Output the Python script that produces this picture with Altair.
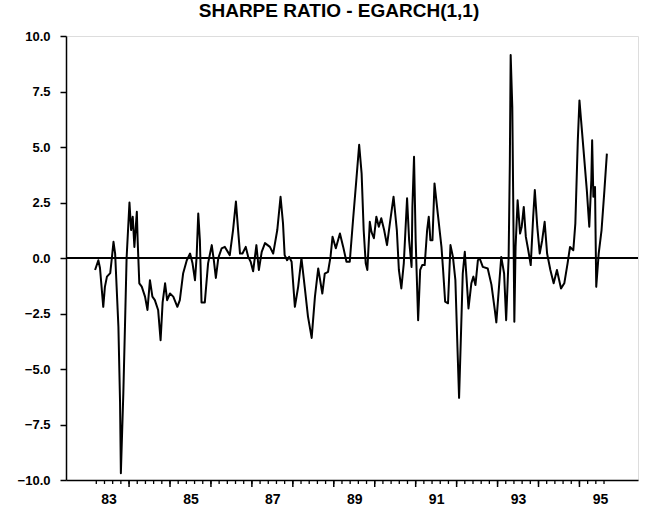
import altair as alt
import pandas as pd

# time axis in years (label "83" centred on 83.0)
years = [
    82.67, 82.75, 82.79, 82.87, 82.91, 82.96, 83.04, 83.08, 83.12, 83.16,
    83.24, 83.28, 83.30, 83.36, 83.40, 83.44, 83.51, 83.55, 83.59, 83.63,
    83.69, 83.71, 83.75, 83.81, 83.89, 83.95, 84.01, 84.07, 84.13, 84.21,
    84.27, 84.32, 84.38, 84.43, 84.50, 84.58, 84.68, 84.74, 84.82, 84.91,
    84.99, 85.05, 85.11, 85.15, 85.19, 85.23, 85.27, 85.35, 85.43, 85.52,
    85.57, 85.62, 85.68, 85.76, 85.84, 85.96, 86.04, 86.11, 86.17, 86.21,
    86.27, 86.35, 86.41, 86.47, 86.53, 86.61, 86.67, 86.74, 86.82, 86.94,
    87.02, 87.12, 87.20, 87.26, 87.30, 87.36, 87.41, 87.47, 87.55, 87.63,
    87.71, 87.79, 87.87, 87.96, 88.04, 88.12, 88.22, 88.28, 88.36, 88.42,
    88.47, 88.55, 88.65, 88.73, 88.81, 88.89, 88.97, 89.05, 89.12, 89.18,
    89.23, 89.28, 89.32, 89.38, 89.42, 89.48, 89.54, 89.60, 89.66, 89.73,
    89.80, 89.87, 89.96, 90.04, 90.09, 90.15, 90.21, 90.29, 90.34, 90.40,
    90.42, 90.46, 90.50, 90.56, 90.61, 90.66, 90.72, 90.78, 90.82, 90.86,
    90.91, 90.96, 91.04, 91.13, 91.17, 91.22, 91.29, 91.35, 91.41, 91.47,
    91.52, 91.56, 91.60, 91.65, 91.70, 91.74, 91.79, 91.86, 91.91, 91.96,
    92.02, 92.06, 92.14, 92.26, 92.35, 92.43, 92.47, 92.59, 92.66, 92.71,
    92.77, 92.80, 92.82, 92.86, 92.88, 92.91, 92.94, 92.99, 93.05, 93.09,
    93.14, 93.19, 93.25, 93.31, 93.37, 93.41, 93.47, 93.53, 93.59, 93.65,
    93.71, 93.79, 93.87, 93.95, 94.05, 94.13, 94.21, 94.27, 94.35, 94.40,
    94.46, 94.50, 94.54, 94.60, 94.68, 94.74, 94.79, 94.81, 94.84, 94.88,
    94.91, 94.97, 95.04, 95.11, 95.17,
]

sharpe = [
    -0.54, -0.10, -0.45, -2.20, -1.30, -0.84, -0.68, 0.00, 0.73, 0.20,
    -3.10, -6.50, -9.70, -6.10, -3.10, 0.00, 2.50, 1.26, 1.86, 0.50,
    2.08, 0.80, -1.14, -1.29, -1.74, -2.34, -1.00, -1.74, -1.90, -2.34,
    -3.70, -2.00, -1.14, -1.90, -1.60, -1.74, -2.20, -1.90, -0.70, -0.10,
    0.20, -0.24, -1.00, 0.05, 2.00, 0.80, -2.00, -2.00, -0.24, 0.58,
    -0.10, -0.90, 0.00, 0.43, 0.50, 0.13, 1.26, 2.54, 1.10, 0.20,
    0.20, 0.50, 0.05, -0.17, -0.60, 0.58, -0.54, 0.28, 0.67, 0.50,
    0.20, 1.26, 2.76, 1.56, 0.13, -0.10, 0.05, -0.17, -2.20, -1.30,
    0.00, -1.30, -2.64, -3.60, -1.74, -0.47, -1.60, -0.70, -0.62, 0.05,
    0.96, 0.44, 1.10, 0.50, -0.17, -0.17, 1.70, 3.50, 5.10, 3.80,
    1.26, -0.24, -0.54, 1.63, 1.18, 0.89, 1.86, 1.41, 1.79, 1.26,
    0.58, 1.56, 2.76, 1.26, -0.54, -1.37, -0.24, 2.69, 0.80, -0.40,
    2.30, 4.56, 0.80, -2.80, -0.54, -0.32, -0.32, 1.26, 1.86, 0.80,
    0.80, 3.36, 2.00, 0.50, -0.54, -1.97, -2.04, 0.58, 0.05, -1.00,
    -4.00, -6.30, -3.84, -0.70, 0.28, -0.84, -2.27, -1.14, -0.84, -1.22,
    -0.10, 0.00, -0.40, -0.47, -1.20, -2.30, -2.90, 0.05, -0.70, -2.80,
    0.00, 4.27, 9.14, 6.80, 3.06, -2.87, 0.50, 2.60, 1.10, 1.41,
    2.30, 0.96, 0.35, -0.32, 1.86, 3.06, 1.41, 0.20, 0.80, 1.63,
    0.20, -0.54, -1.14, -0.54, -1.37, -1.14, -0.24, 0.50, 0.35, 1.56,
    5.30, 7.10, 6.20, 4.86, 3.06, 1.41, 3.50, 5.30, 2.76, 3.20,
    -1.30, 0.20, 1.26, 3.06, 4.70,
]

y_ticks = [-10, -7.5, -5, -2.5, 0, 2.5, 5, 7.5, 10]
year_labels = [83, 85, 87, 89, 91, 93, 95]
major_ticks = [83.5, 84.5, 85.5, 86.5, 87.5, 88.5, 89.5, 90.5, 91.5, 92.5, 93.5, 94.5]
minor_ticks = [round(82.7 + 0.2 * i, 1) for i in range(63)]
zero_line = [0.0]

FONT = "Liberation Sans"
PLOT_H = 444

df = pd.DataFrame({"year": years, "sharpe": sharpe})
xscale = alt.Scale(domain=[81.96, 95.93], nice=False, zero=False)
yscale = alt.Scale(domain=[-10, 10], nice=False, zero=False)

line = alt.Chart(df).mark_line(color="black", strokeWidth=2, strokeJoin="round").encode(
    x=alt.X("year:Q", scale=xscale,
            axis=alt.Axis(values=year_labels, ticks=False, format="d", labelPadding=12,
                          labelOverlap=False, labelBound=False, labelFlush=False,
                          domain=True, domainColor="black", domainWidth=1.5, grid=False,
                          title=None, labelFont=FONT, labelFontSize=14, labelFontWeight="bold",
                          labelColor="black", orient="bottom")),
    y=alt.Y("sharpe:Q", scale=yscale,
            axis=alt.Axis(values=y_ticks, format=".1f", tickSize=6, tickWidth=1.5,
                          tickColor="black", domain=True, domainColor="black", domainWidth=1.5,
                          grid=False, title=None, labelFont=FONT, labelFontSize=13,
                          labelFontWeight="bold", labelColor="black", labelPadding=10,
                          orient="left")),
)

minor = alt.Chart(pd.DataFrame({"t": minor_ticks})).mark_rule(color="black", strokeWidth=1.3).encode(
    x=alt.X("t:Q", scale=xscale),
    y=alt.value(PLOT_H),
    y2=alt.value(PLOT_H + 4),
)

major = alt.Chart(pd.DataFrame({"t": major_ticks})).mark_rule(color="black", strokeWidth=1.5).encode(
    x=alt.X("t:Q", scale=xscale),
    y=alt.value(PLOT_H),
    y2=alt.value(PLOT_H + 7),
)

zero = alt.Chart(pd.DataFrame({"zero": zero_line})).mark_rule(color="black", strokeWidth=2).encode(
    y=alt.Y("zero:Q", scale=yscale)
)

chart = alt.layer(zero, minor, major, line).properties(
    width=572,
    height=PLOT_H,
    title=alt.TitleParams("SHARPE RATIO - EGARCH(1,1)", font=FONT, fontSize=19,
                          fontWeight="bold", color="black", anchor="middle", dx=-13, offset=9),
    autosize=alt.AutoSizeParams(type="none"),
    padding={"left": 66, "top": 36, "right": 10, "bottom": 29},
).configure_view(stroke="black", strokeWidth=1.5).configure(background="white")

chart.save("out.html", embed_options={"renderer": "svg", "actions": False})
